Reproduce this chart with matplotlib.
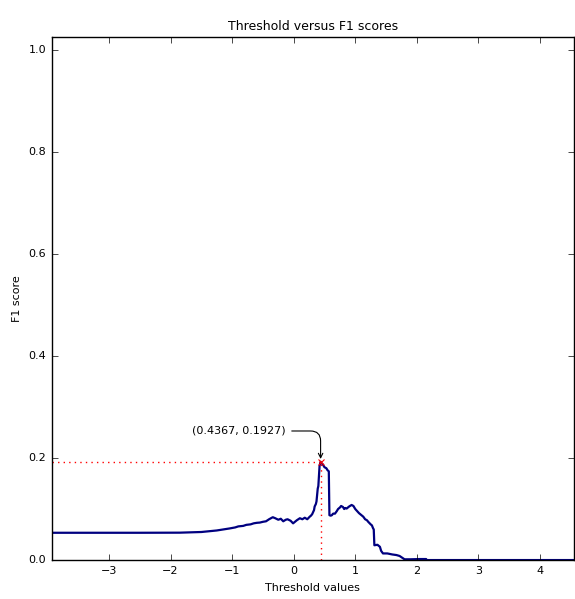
import numpy as np
import matplotlib
matplotlib.use("Agg")
import matplotlib.pyplot as plt

plt.style.use("classic")
plt.rcParams["font.size"] = 8
plt.rcParams["font.family"] = "DejaVu Sans"

# curve (threshold, F1)
thresholds = [-3.93, -2.5, -1.85, -1.5, -1.25, -1.04, -0.95, -0.9, -0.82, -0.77, -0.7, -0.65,
              -0.6, -0.55, -0.5, -0.45, -0.4, -0.34, -0.3, -0.25, -0.21, -0.17, -0.13, -0.1,
              -0.05, -0.01, 0.03, 0.05, 0.10, 0.14, 0.18, 0.22, 0.26, 0.28, 0.30, 0.33, 0.34,
              0.36, 0.37, 0.39, 0.40, 0.41, 0.42, 0.4367, 0.45, 0.47, 0.50, 0.53, 0.55, 0.57,
              0.58, 0.60, 0.62, 0.64, 0.67, 0.70, 0.72, 0.75, 0.77, 0.80, 0.82, 0.84, 0.86,
              0.90, 0.94, 0.97, 1.00, 1.03, 1.06, 1.10, 1.13, 1.16, 1.19, 1.21, 1.25, 1.27,
              1.29, 1.30, 1.31, 1.36, 1.38, 1.40, 1.42, 1.45, 1.52, 1.60, 1.67, 1.72, 1.80,
              1.90, 2.05, 2.15, 2.16, 3.0, 4.55]
f1 = [0.0535, 0.0535, 0.0537, 0.0550, 0.0580, 0.0620, 0.0640, 0.0660, 0.0670, 0.0690, 0.0700, 0.0720,
      0.0730, 0.0735, 0.0750, 0.0760, 0.0800, 0.0840, 0.0820, 0.0790, 0.0810, 0.0760, 0.0790, 0.0800,
      0.0770, 0.0720, 0.0760, 0.0780, 0.0820, 0.0800, 0.0830, 0.0800, 0.0850, 0.0870, 0.0900, 0.0980, 0.1050,
      0.1100, 0.1150, 0.1400, 0.1450, 0.1650, 0.1850, 0.1927, 0.1900, 0.1880, 0.1820, 0.1800, 0.1760, 0.1740,
      0.0880, 0.0870, 0.0880, 0.0910, 0.0910, 0.0960, 0.1000, 0.1030, 0.1060, 0.1040, 0.1000, 0.1020, 0.1010,
      0.1050, 0.1080, 0.1060, 0.1000, 0.0960, 0.0920, 0.0880, 0.0850, 0.0800, 0.0780, 0.0750, 0.0700, 0.0680,
      0.0620, 0.0600, 0.0290, 0.0300, 0.0280, 0.0260, 0.0180, 0.0130, 0.0130, 0.0110, 0.0098, 0.0080, 0.0015,
      0.0015, 0.0020, 0.0020, 0.0, 0.0, 0.0]

best_t = 0.4367
best_f1 = 0.1927

fig = plt.figure(figsize=(5.75, 5.99), dpi=100)
ax = fig.add_axes([0.090, 0.065, 0.908, 0.873])

ax.plot(thresholds, f1, color="#000080", lw=1.6)
ax.plot([-3.93, best_t], [best_f1, best_f1], color="red", ls=":", lw=1.0)
ax.plot([best_t, best_t], [0, best_f1], color="red", ls=":", lw=1.0)
ax.plot([best_t], [best_f1], marker="x", color="red", ms=4, mew=0.8)

ax.annotate("(%.4f, %.4f)" % (best_t, best_f1), xy=(best_t, best_f1),
            xytext=(-0.13, 0.253), ha="right", va="center",
            arrowprops=dict(arrowstyle="->", color="black", lw=0.8,
                            connectionstyle="angle,angleA=0,angleB=90,rad=10"))

ax.set_xlim(-3.93, 4.55)
ax.set_ylim(0, 1.025)
ax.set_xticks([-3, -2, -1, 0, 1, 2, 3, 4])
ax.set_yticks([0.0, 0.2, 0.4, 0.6, 0.8, 1.0])
ax.set_xlabel("Threshold values")
ax.set_ylabel("F1 score")
ax.set_title("Threshold versus F1 scores", fontsize=9)

fig.savefig("out.png", dpi=100)
